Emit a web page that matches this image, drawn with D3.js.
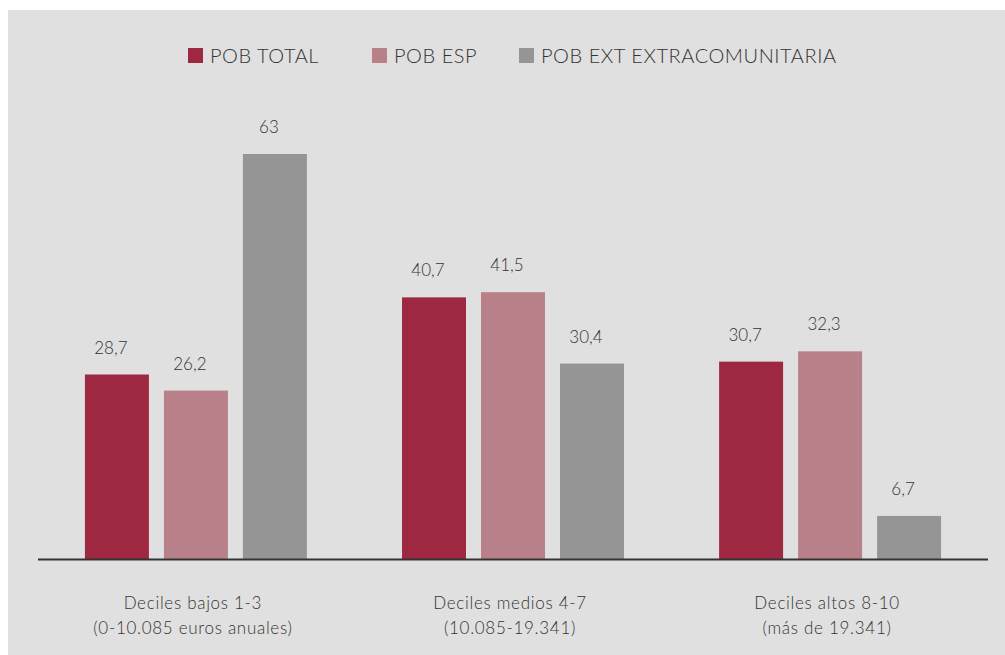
<!DOCTYPE html>
<html>
<head>
<meta charset="utf-8">
<script src="https://cdn.jsdelivr.net/npm/d3@7"></script>
<style>
  body { margin:0; background:#fff; }
  text { font-family: Lato, 'Open Sans', sans-serif; font-weight:300; fill:#333; }
</style>
</head>
<body>
<div id="canvas"></div>
<script>
// data
var categories = ['Deciles bajos 1-3', 'Deciles medios 4-7', 'Deciles altos 8-10'];
var subLabels = ['(0-10.085 euros anuales)', '(10.085-19.341)', '(más de 19.341)'];
var series = ['POB TOTAL', 'POB ESP', 'POB EXT EXTRACOMUNITARIA'];
var pobTotal = [28.7, 40.7, 30.7];
var pobEsp = [26.2, 41.5, 32.3];
var pobExt = [63, 30.4, 6.7];
var colors = ['#9e2842', '#b88088', '#959595'];

var W = 1005, H = 655;
var svg = d3.select('#canvas').append('svg')
  .attr('width', W).attr('height', H);

svg.append('rect')
  .attr('x', 8).attr('y', 10)
  .attr('width', W - 8).attr('height', H - 10)
  .attr('fill', '#e0e0e0');

var base = 559;
var scaleX = d3.scaleBand()
  .domain(categories)
  .range([38, 988])
  .paddingInner(0.3)
  .paddingOuter(0.148);
var scaleS = d3.scaleBand()
  .domain(series)
  .range([0, scaleX.bandwidth()])
  .paddingInner(0.19);
var scaleY = d3.scaleLinear()
  .domain([0, 70])
  .range([base, base - 450]);

var rows = categories.map(function(c, i) {
  return {cat: c, sub: subLabels[i], vals: [pobTotal[i], pobEsp[i], pobExt[i]]};
});

var groups = svg.selectAll('g.grp')
  .data(rows)
  .enter().append('g')
  .attr('class', 'grp')
  .attr('transform', function(d) { return 'translate(' + scaleX(d.cat) + ',0)'; });

var cells = groups.selectAll('g.cell')
  .data(function(d) { return d.vals.map(function(v, j) { return {s: series[j], v: v, j: j}; }); })
  .enter().append('g').attr('class', 'cell');

cells.append('rect')
  .attr('x', function(d) { return scaleS(d.s); })
  .attr('y', function(d) { return scaleY(d.v); })
  .attr('width', scaleS.bandwidth())
  .attr('height', function(d) { return base - scaleY(d.v); })
  .attr('fill', function(d) { return colors[d.j]; });

var fmt = function(v) { return String(v).replace('.', ','); };
cells.append('text')
  .attr('x', function(d) { return scaleS(d.s) + scaleS.bandwidth() / 2 - 6; })
  .attr('y', function(d) { return scaleY(d.v) - 21; })
  .attr('text-anchor', 'middle')
  .style('font-size', '17px')
  .text(function(d) { return fmt(d.v); });

// baseline
svg.append('line')
  .attr('x1', 38).attr('x2', 988)
  .attr('y1', base + 0.5).attr('y2', base + 0.5)
  .attr('stroke', '#333').attr('stroke-width', 2);

// category labels
var lab = svg.selectAll('text.cat')
  .data(rows)
  .enter().append('text')
  .attr('class', 'cat')
  .attr('text-anchor', 'middle')
  .attr('x', function(d) { return scaleX(d.cat) + scaleX.bandwidth() / 2 - 3; })
  .attr('y', 609)
  .style('font-size', '17px')
  .style('letter-spacing', '0.7px');
lab.append('tspan').text(function(d) { return d.cat; });
lab.append('tspan')
  .attr('x', function(d) { return scaleX(d.cat) + scaleX.bandwidth() / 2 - 3; })
  .attr('dy', 25)
  .text(function(d) { return d.sub; });

// legend
var legX = [188, 372, 519];
var leg = svg.selectAll('g.leg')
  .data(series)
  .enter().append('g')
  .attr('class', 'leg')
  .attr('transform', function(d, i) { return 'translate(' + legX[i] + ',48)'; });
leg.append('rect')
  .attr('width', 15).attr('height', 15)
  .attr('fill', function(d, i) { return colors[i]; });
leg.append('text')
  .attr('x', 22).attr('y', 15)
  .style('font-size', '20px')
  .style('letter-spacing', '0.55px')
  .text(function(d) { return d; });
</script>
</body>
</html>
